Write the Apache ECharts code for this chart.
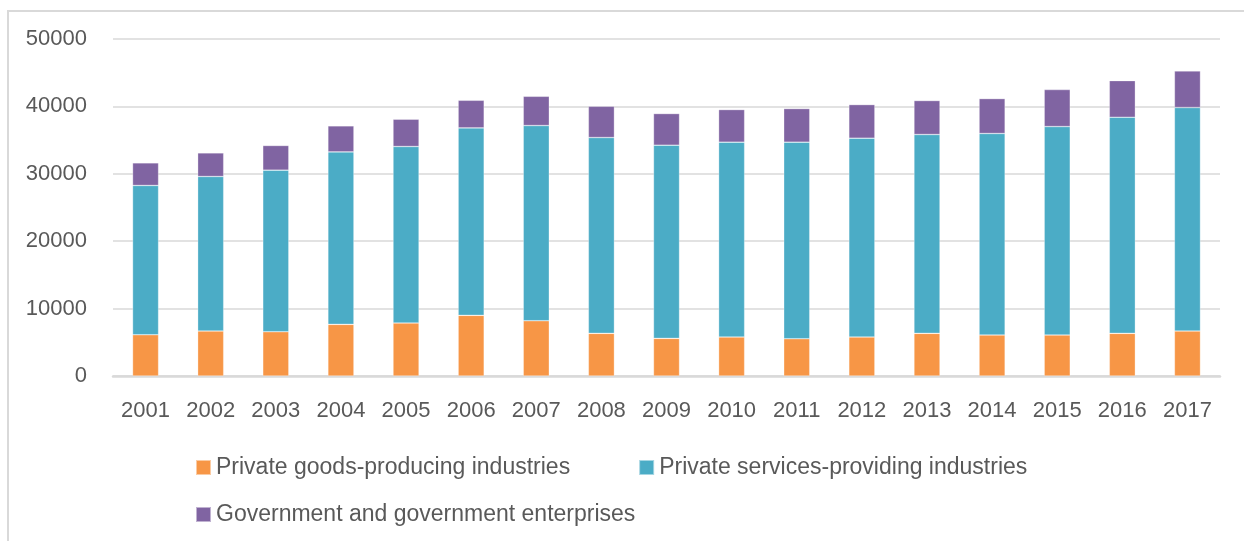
<!DOCTYPE html>
<html>
<head>
<meta charset="utf-8">
<script src="https://cdn.jsdelivr.net/npm/echarts@6/dist/echarts.min.js"></script>
<style>
    html, body {
        margin: 0;
        padding: 0;
        background: #fff;
        overflow: hidden;
    }
    .frame {
        position: absolute;
        left: 7px;
        top: 10px;
        width: 1260px;
        height: 560px;
        border: 2px solid #d9d9d9;
        box-sizing: border-box;
    }
    #chart {
        position: absolute;
        left: 0;
        top: 0;
        width: 1244px;
        height: 541px;
    }
</style>
</head>
<body>
<div class="frame"></div>
<div id="chart"></div>
<script>
    var years = ['2001', '2002', '2003', '2004', '2005', '2006', '2007', '2008', '2009',
                 '2010', '2011', '2012', '2013', '2014', '2015', '2016', '2017'];
    var goods = [6120, 6670, 6570, 7660, 7860, 9000, 8200, 6330, 5580,
                 5780, 5530, 5780, 6330, 6080, 6080, 6330, 6670];
    var services = [22150, 22930, 23970, 25590, 26190, 27810, 28960, 29050, 28660,
                    28910, 29160, 29500, 29500, 29900, 30930, 32060, 33160];
    var government = [3350, 3500, 3660, 3860, 4050, 4100, 4340, 4640, 4700,
                      4840, 4990, 4990, 5040, 5180, 5490, 5440, 5430];
    var yTicks = [0, 10000, 20000, 30000, 40000, 50000];

    var names = ['Private goods-producing industries',
                 'Private services-providing industries',
                 'Government and government enterprises'];
    var colors = ['#f79646', '#4bacc6', '#8064a2'];
    var font = '"Liberation Sans Narrow", "Arial Narrow", "Liberation Sans", sans-serif';

    var myChart = echarts.init(document.getElementById('chart'));

    var legendText = {color: '#595959', fontSize: 23, fontFamily: font};

    var option = {
        animation: false,
        textStyle: {fontFamily: font},
        grid: {left: 113, right: 24, top: 39, bottom: 165},
        legend: [
            {data: [names[0], names[1]], left: 190, top: 451, icon: 'rect',
             itemWidth: 15, itemHeight: 15, itemGap: 68, textStyle: legendText},
            {data: [names[2]], left: 190, top: 498, icon: 'rect',
             itemWidth: 15, itemHeight: 15, textStyle: legendText}
        ],
        xAxis: {
            type: 'category',
            data: years,
            axisLine: {lineStyle: {color: '#d9d9d9', width: 2.5}},
            axisTick: {show: false},
            axisLabel: {color: '#595959', fontSize: 22, margin: 24, interval: 0, fontFamily: font}
        },
        yAxis: {
            type: 'value',
            min: yTicks[0],
            max: yTicks[yTicks.length - 1],
            interval: 10000,
            axisLine: {show: false},
            axisTick: {show: false},
            axisLabel: {color: '#595959', fontSize: 22, margin: 26, fontFamily: font,
                        formatter: function (v) { return String(v); }},
            splitLine: {lineStyle: {color: '#d9d9d9', width: 1.6}}
        },
        series: []
    };

    var dataSets = [goods, services, government];
    for (var i = 0; i < names.length; i++) {
        option.series.push({
            name: names[i],
            type: 'bar',
            stack: 'total',
            data: dataSets[i],
            barWidth: '40%',
            itemStyle: {color: colors[i], borderColor: 'rgba(255,255,255,0.5)', borderWidth: 0.6}
        });
    }

    myChart.setOption(option);
</script>
</body>
</html>
